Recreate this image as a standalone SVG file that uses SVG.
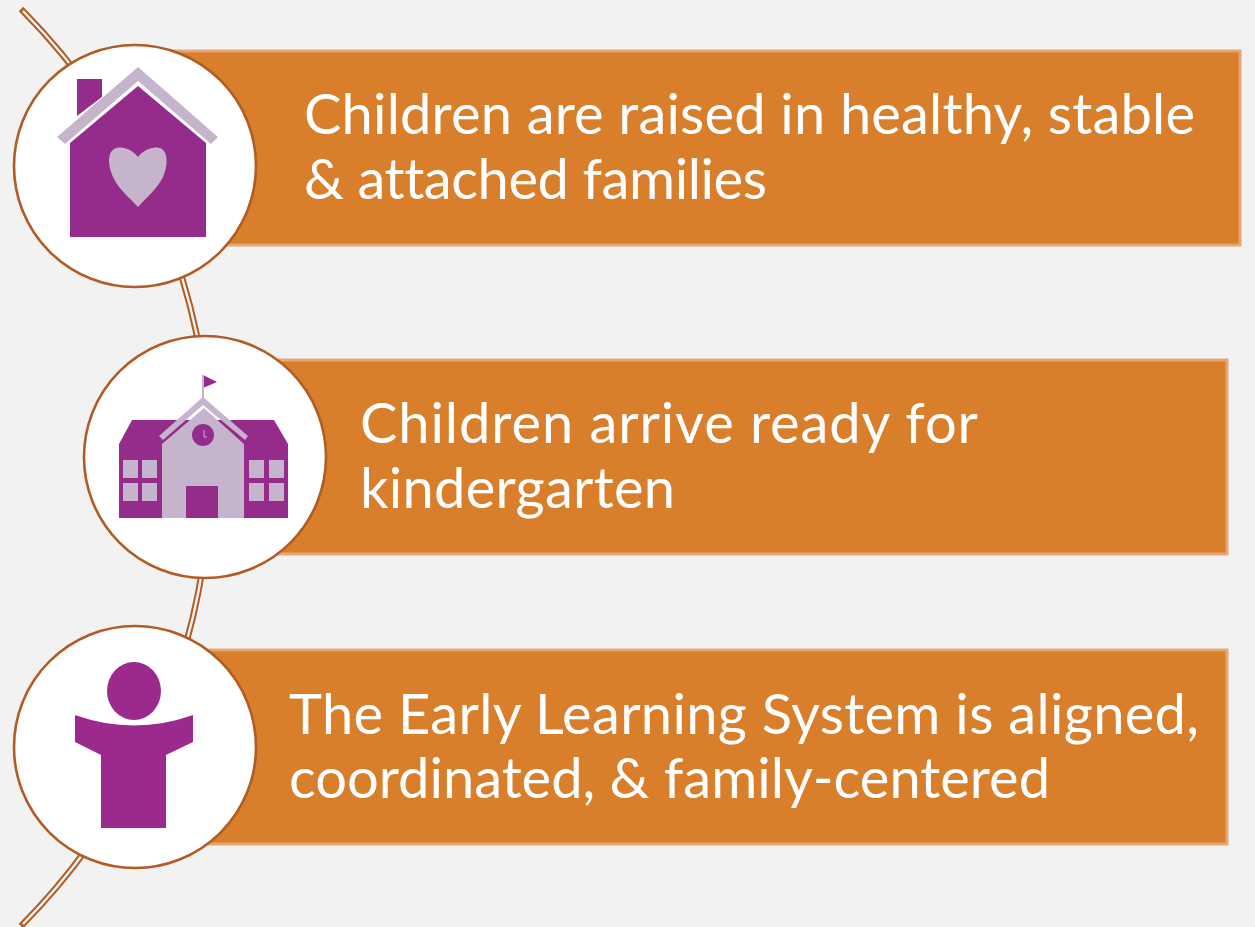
<svg xmlns="http://www.w3.org/2000/svg" width="1255" height="927" viewBox="0 0 1255 927">
<style>
.bar{fill:#d97e2a;stroke:#e5a673;stroke-width:3}
.ring{fill:#fff;stroke:#b05c24;stroke-width:2.6}
.t{font-family:"Lato","Liberation Sans",sans-serif;font-size:56px;fill:#fff;font-variant-ligatures:none}
.p{fill:#952c8c}
.l{fill:#c5b4cb}
.arcO{fill:none;stroke:#b05c24;stroke-width:6.4}
.arcI{fill:none;stroke:#f2f2f2;stroke-width:2.4}
</style>
<rect width="1255" height="927" fill="#f2f2f2"/>
<g id="connectors">
<path class="arcO" d="M21 9A650 650 0 0 1 21 926"/>
<path class="arcI" d="M23 11A650 650 0 0 1 23 924"/>
</g>
<g id="node1">
<rect class="bar" x="135" y="51" width="1105" height="194"/>
<circle class="ring" cx="135" cy="166" r="121"/>
<path class="p" d="M77 79H102V97L77 116Z"/>
<path class="l" d="M138 67L218 137L211 144L138 81L65 144L57 137Z"/>
<path class="p" d="M138 86L206 143V237H70V143Z"/>
<path class="l" d="M138 157C144 149 155 145 162 149C168 153 168 166 163 177C158 188 146 198 138 207C130 198 119 190 113 177C108 166 107 153 114 149C121 145 132 149 138 157Z"/>
<text class="t" x="304" y="134" textLength="891">Children are raised in healthy, stable</text>
<text class="t" x="304" y="199" textLength="463">&amp; attached families</text>
</g>
<g id="node2">
<rect class="bar" x="205" y="360" width="1022" height="194"/>
<circle class="ring" cx="205" cy="457" r="121"/>
<path class="p" d="M203 375L217 382L203 388Z"/>
<rect class="l" x="202" y="375" width="2" height="25"/>
<path class="p" d="M132 420H274L288 444V518H119V444Z"/>
<path class="l" d="M204 408L244 444V518H162V444Z"/>
<path fill="#fff" d="M204 398L232 422L204 406L176 422Z"/>
<path class="l" d="M203 397L248 436L245 440L203 405L163 440L159 436Z"/>
<circle class="p" cx="203" cy="435" r="11"/>
<path d="M204 430V437H207" fill="none" stroke="#c5b4cb" stroke-width="1"/>
<g class="l">
<rect x="123" y="460" width="15" height="18"/><rect x="142" y="460" width="15" height="18"/>
<rect x="123" y="483" width="15" height="18"/><rect x="142" y="483" width="15" height="18"/>
<rect x="249" y="460" width="15" height="18"/><rect x="269" y="460" width="15" height="18"/>
<rect x="249" y="483" width="15" height="18"/><rect x="269" y="483" width="15" height="18"/>
</g>
<rect class="p" x="186" y="486" width="32" height="32"/>
<text class="t" x="360" y="443" textLength="618">Children arrive ready for</text>
<text class="t" x="360" y="508" textLength="315">kindergarten</text>
</g>
<g id="node3">
<rect class="bar" x="135" y="650" width="1092" height="194"/>
<circle class="ring" cx="135" cy="747" r="121"/>
<ellipse cx="134" cy="691" rx="27" ry="29" fill="#9c2a8c"/>
<path fill="#9c2a8c" d="M75 715Q134 736 193 715V742L166 755V828H101V755L75 742Z"/>
<text class="t" x="289" y="734" textLength="910">The Early Learning System is aligned,</text>
<text class="t" x="289" y="798" textLength="761">coordinated, &amp; family-centered</text>
</g>
</svg>
